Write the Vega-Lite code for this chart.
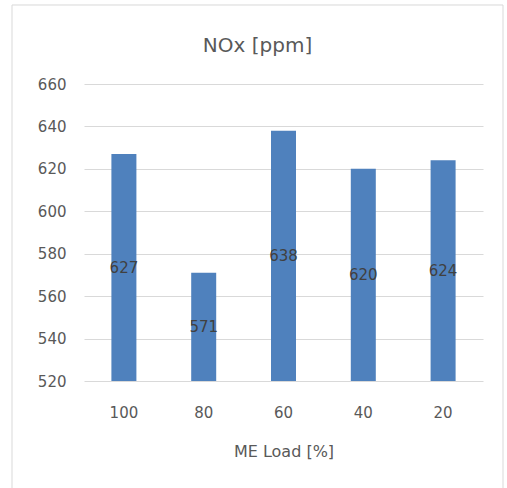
{
  "$schema": "https://vega.github.io/schema/vega-lite/v6.json",
  "width": 399,
  "height": 297,
  "autosize": {"type": "none"},
  "padding": {"left": 84, "top": 84, "right": 24, "bottom": 107},
  "background": "white",
  "title": {
    "text": "NOx [ppm]",
    "font": "DejaVu Sans",
    "fontSize": 20,
    "fontWeight": "normal",
    "color": "#595959",
    "anchor": "middle",
    "frame": "bounds",
    "baseline": "alphabetic",
    "offset": -68
  },
  "data": {
    "values": [
      {"load": "100", "nox": 627},
      {"load": "80", "nox": 571},
      {"load": "60", "nox": 638},
      {"load": "40", "nox": 620},
      {"load": "20", "nox": 624}
    ]
  },
  "layer": [
    {
      "data": {"values": [{}]},
      "mark": {"type": "rect", "fill": "transparent", "stroke": "#d9d9d9", "strokeWidth": 1},
      "encoding": {
        "x": {"datum": -0.18045, "type": "quantitative", "scale": {"domain": [0, 1]}, "axis": null},
        "x2": {"datum": 1.05013},
        "y": {"datum": 697.24, "type": "quantitative", "scale": {"domain": [520, 660], "nice": false, "zero": false}, "axis": null},
        "y2": {"datum": 463.9}
      }
    },
    {
      "mark": {"type": "bar", "size": 25, "color": "#4f81bd"},
      "encoding": {
        "x": {
          "field": "load",
          "type": "nominal",
          "sort": null,
          "scale": {"paddingInner": 0, "paddingOuter": 0},
          "axis": {
            "title": "ME Load [%]",
            "labelAngle": 0,
            "grid": false,
            "domain": false,
            "ticks": false,
            "labelPadding": 24,
            "titlePadding": 23,
            "titleFont": "DejaVu Sans",
            "titleFontSize": 16,
            "titleFontWeight": "normal",
            "titleColor": "#595959"
          }
        },
        "y": {
          "field": "nox",
          "type": "quantitative",
          "scale": {"domain": [520, 660], "nice": false, "zero": false},
          "axis": {
            "title": null,
            "values": [520, 540, 560, 580, 600, 620, 640, 660],
            "grid": true,
            "domain": false,
            "ticks": false,
            "labelPadding": 18,
            "gridColor": "#d9d9d9",
            "gridWidth": 1
          }
        },
        "y2": {"datum": 520}
      }
    },
    {
      "mark": {"type": "text", "font": "DejaVu Sans", "fontSize": 15, "color": "#404040", "baseline": "middle"},
      "encoding": {
        "x": {"field": "load", "type": "nominal", "sort": null, "axis": null},
        "y": {"field": "nox", "type": "quantitative", "scale": {"domain": [520, 800], "nice": false, "zero": false}, "axis": null},
        "text": {"field": "nox", "type": "quantitative"}
      }
    }
  ],
  "resolve": {"scale": {"x": "independent", "y": "independent"}, "axis": {"x": "independent", "y": "independent"}},
  "config": {
    "view": {"stroke": null},
    "axis": {
      "labelFont": "DejaVu Sans",
      "labelFontSize": 15,
      "labelColor": "#595959",
      "gridColor": "#d9d9d9"
    }
  }
}
